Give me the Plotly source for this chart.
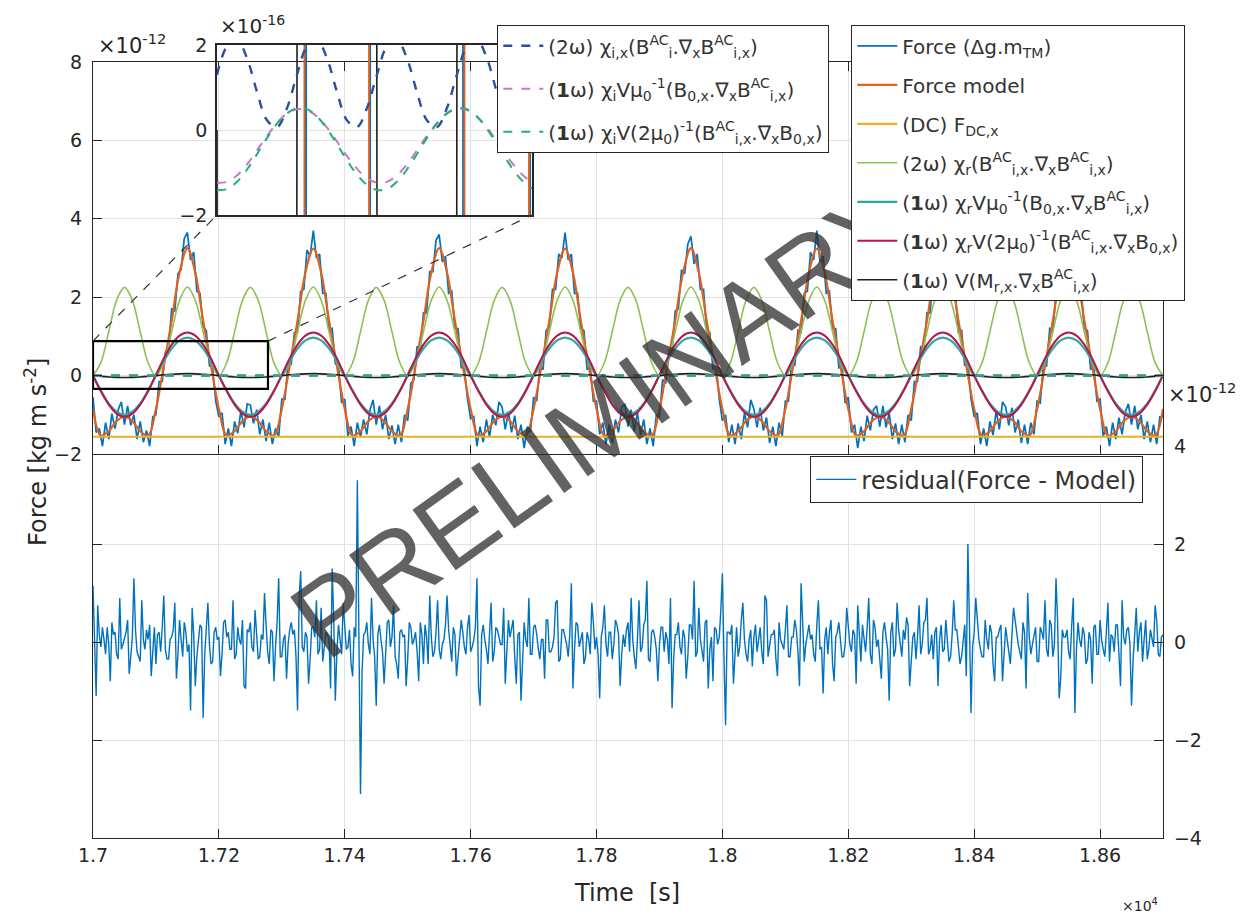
import numpy as np
import plotly.graph_objects as go

# ---------------- data (values in units of 1e-12 N unless noted) ----------------
T0 = 17000.0
DT_FINE = 5.0      # s, sampling of force array
DT_SMOOTH = 12.5   # s, sampling of model component arrays

force = [
    -0.55,-1.45,-1.35,-1.8,-1.2,-1.62,-0.97,-1.35,-0.87,-0.67,-1.25,-0.77,-1.27,-1.0,-1.62,-1.17,-1.7,-1.4,-1.8,-1.05,
    -1.0,-0.15,-0.15,0.6,0.7,1.7,1.65,2.6,2.7,3.5,3.65,2.95,3.15,2.15,2.1,1.25,1.15,0.25,0.2,-0.65,
    -1.05,-0.95,-1.75,-1.35,-1.8,-1.17,-1.47,-0.9,-1.32,-0.72,-0.75,-1.22,-0.87,-1.5,-1.12,-1.67,-1.2,-1.75,-1.35,-1.55,
    -0.6,-0.6,0.35,0.3,1.1,1.1,2.15,2.2,3.2,3.05,3.7,3.0,3.1,2.1,2.1,1.15,1.2,0.3,0.25,-0.7,
    -0.6,-1.55,-1.3,-1.8,-1.2,-1.57,-1.12,-1.5,-0.87,-0.62,-1.25,-0.77,-1.37,-1.0,-1.62,-1.27,-1.75,-1.25,-1.7,-1.0,
    -1.15,-0.2,-0.1,0.75,0.65,1.6,1.6,2.65,2.65,3.45,3.6,2.9,3.05,2.1,2.15,1.2,1.2,0.2,0.2,-0.6,
    -1.1,-1.05,-1.8,-1.3,-1.7,-1.12,-1.57,-1.0,-1.27,-0.67,-0.8,-1.37,-0.92,-1.45,-1.02,-1.62,-1.25,-1.85,-1.3,-1.45,
    -0.55,-0.65,0.25,0.15,1.15,1.25,2.2,2.2,3.1,3.0,3.65,2.95,3.1,2.1,2.1,1.2,1.15,0.15,0.25,-0.65,
    -0.65,-1.5,-1.2,-1.75,-1.25,-1.72,-1.12,-1.45,-0.82,-0.72,-1.3,-0.87,-1.42,-0.95,-1.52,-1.12,-1.75,-1.35,-1.8,-1.0,
    -1.05,-0.1,-0.2,0.65,0.6,1.65,1.7,2.7,2.6,3.35,3.55,2.85,3.1,2.2,2.2,1.15,1.1,0.15,0.3,-0.6,
    -1.15,-1.0,-1.7,-1.25,-1.75,-1.22,-1.62,-0.95,-1.32,-0.62,-0.85,-1.32,-0.82,-1.4,-1.07,-1.72,-1.3,-1.8,-1.2,-1.55,
    -0.65,-0.65,0.35,0.25,1.15,1.1,2.1,2.15,3.15,2.95,3.7,2.9,3.05,2.1,2.15,1.2,1.2,0.2,0.25,-0.7,
    -0.55,-1.45,-1.25,-1.85,-1.3,-1.67,-1.02,-1.4,-0.87,-0.77,-1.3,-0.77,-1.32,-0.95,-1.62,-1.22,-1.75,-1.25,-1.7,-1.0,
    -1.15,-0.15,-0.15,0.75,0.65,1.6,1.6,2.65,2.65,3.45,3.55,2.95,3.15,2.15,2.1,1.1,1.15,0.25,0.35,-0.6,
    -1.05,-0.95,-1.75,-1.35,-1.8,-1.17,-1.52,-0.9,-1.37,-0.67,-0.8,-1.27,-0.82,-1.45,-1.12,-1.72,-1.25,-1.75,-1.2,-1.5,
    -0.65,-0.7,0.3,0.25,1.2,1.15,2.1,2.1,3.1,2.95,3.65,2.85,3.05,2.15,2.2,1.2,1.15,0.15,0.25,-0.65,
    -0.6,-1.55,-1.3,-1.8,-1.2,-1.62,-1.07,-1.5,-0.92,-0.72,-1.25,-0.77,-1.37,-1.0,-1.62,-1.17,-1.7,-1.25,-1.75,-1.05,-1.05,
]

# residual samples at t = T0 + 5k
residual_a = [
    1.15,-1.1,0.15,0.3,-0.25,-0.05,0.4,0.2,-0.35,-0.15,0.1,0.45,-0.3,1.3,-0.2,-0.4,0.05,0.25,0.35,-0.1,
    -0.45,0.2,0.3,-0.15,-0.35,0.1,0.8,-0.25,0.05,0.4,-0.2,-1.4,0.15,-0.3,0.35,-1.55,0.25,-0.05,-0.4,0.3,
    0.1,-0.25,0.45,0.2,-0.15,-0.35,0.3,-0.05,-0.9,0.25,0.4,-0.2,0.15,-0.3,0.05,0.35,-0.45,0.2,-0.1,1.3,
    -0.3,0.15,-0.05,0.4,0.25,-1.4,1.45,-0.2,0.1,-0.35,0.3,0.85,-0.15,-0.4,0.2,0.05,1.5,-1.2,0.35,-0.25,
    0.2,-0.1,-0.45,0.3,3.3,-3.1,0.15,0.4,-0.25,0.05,-1.3,0.35,-0.2,-0.05,0.45,0.1,-0.3,-0.75,0.25,0.15,
    -0.35,0.3,0.05,-0.2,0.4,-0.45,0.1,0.95,-0.3,0.2,-0.15,-0.05,0.35,0.25,-0.4,0.15,-0.25,0.45,-0.1,0.3,
    -0.2,0.05,1.3,-1.3,0.35,-0.15,0.2,-0.4,0.3,0.1,-0.05,-0.85,0.45,0.25,-0.3,0.15,-1.2,0.4,-0.1,-0.25,
    0.3,0.15,-0.35,0.05,0.45,-0.2,-0.1,0.8,-0.4,0.25,0.1,-0.3,1.2,-0.15,0.35,0.05,-0.45,0.2,-0.25,0.4,
    0.1,-1.15,0.3,-0.05,0.2,-0.35,0.45,0.15,-0.25,-0.1,0.4,0.9,-0.3,0.05,-0.2,0.35,1.25,-0.4,0.25,-0.15,
    -0.05,0.3,0.2,-0.45,-1.35,0.15,0.4,-0.25,0.1,-0.3,0.35,1.25,-0.2,0.05,-0.4,0.45,-0.15,-0.8,0.25,0.1,
    1.4,-1.7,0.2,0.35,-0.15,-0.3,0.45,0.05,-0.4,0.25,0.1,-0.2,0.3,-0.45,0.85,-0.1,0.15,-0.35,0.4,-0.05,
    0.25,-0.3,0.1,0.45,-0.2,1.2,-0.4,0.15,0.05,-0.25,0.35,-0.15,-1.05,0.3,0.2,-0.45,0.1,0.4,-0.3,-0.05,
    0.35,-0.2,0.15,0.75,-0.4,0.05,0.3,-0.25,0.45,-0.1,-0.35,0.2,0.1,-1.2,0.4,-0.15,0.25,-0.3,0.05,0.35,
    -0.45,0.2,0.1,-0.25,0.4,0.9,-0.15,-0.35,0.3,0.05,-0.2,0.45,-0.4,0.15,0.25,-0.1,-0.3,0.35,2.0,-1.45,
    0.2,0.4,-0.15,-0.3,0.05,0.35,-0.45,0.1,0.25,-0.8,0.3,-0.2,0.15,0.45,-0.05,-0.35,0.2,1.0,-0.25,0.1,
    -0.4,0.3,0.05,-0.15,0.45,-0.3,1.3,-1.15,0.25,0.1,-0.2,0.35,-1.45,0.4,-0.1,0.15,-0.35,0.05,0.3,-0.25,
    0.45,-0.15,0.2,-0.4,0.1,0.35,-0.25,0.85,-0.05,0.3,-1.3,0.15,-0.2,0.4,0.05,-0.35,0.25,-0.1,0.45,-0.3,
    0.15,
]
# residual samples at t = T0 + 2.5 + 5k
residual_b = [
    -0.2,0.75,-0.1,0.05,0.3,-0.8,0.15,-0.25,0.9,-0.05,0.2,-0.65,0.1,0.25,-0.3,0.85,-0.15,0.05,-0.7,0.3,
    0.15,-0.2,0.95,-0.35,0.05,0.25,-0.75,0.45,-0.3,0.2,-0.05,0.7,-0.9,0.1,0.3,-0.25,0.8,-0.45,0.2,0.05,
    -0.7,0.4,0.1,-0.15,0.85,-0.25,0.05,0.45,-0.95,0.2,-0.1,0.65,-0.35,0.15,1.0,-0.2,0.25,-0.8,0.4,-0.3,
    0.05,-0.75,0.25,0.15,-0.3,0.9,-0.1,0.2,-0.85,0.3,0.1,-0.25,0.7,-0.05,0.15,-0.95,0.45,-0.2,0.05,0.8,
    -0.15,0.25,-0.7,0.1,0.35,-0.6,0.2,-0.05,0.9,-0.3,0.15,0.05,-0.85,0.4,-0.1,0.75,-0.45,0.2,0.1,-0.9,
    0.4,-0.05,0.2,-0.8,0.15,0.35,-0.45,0.1,-0.2,0.85,-0.35,0.05,0.95,-0.15,0.3,-0.7,0.1,0.2,-0.25,0.55,
    -0.1,0.3,-0.9,0.15,0.05,-0.45,0.8,-0.2,0.25,-0.05,0.7,-0.3,0.1,0.45,-0.85,0.2,-0.4,0.05,0.9,-0.25,
    0.35,-0.15,0.05,-0.75,0.45,-0.2,0.1,0.85,-0.35,0.25,-0.05,0.15,-0.95,0.4,-0.1,0.2,-0.3,0.05,0.8,-0.15,
    -0.25,0.1,0.75,-0.3,0.2,-0.05,0.35,-0.9,0.15,0.25,-0.2,0.05,-0.55,0.85,-0.1,0.45,-0.35,0.2,0.1,-0.8,
    0.3,-0.2,0.05,0.9,-0.35,0.15,-0.1,0.25,-0.75,0.35,0.05,-0.3,0.7,-0.15,0.4,-0.95,0.1,0.3,-0.05,0.65,
    -0.35,0.2,0.15,-0.85,0.3,-0.1,0.8,-0.25,0.05,-0.5,0.35,0.1,-0.2,0.95,-0.3,0.15,0.25,-0.7,0.05,-0.15,
    0.75,-0.3,0.1,0.25,-0.9,0.2,-0.05,0.35,0.15,-0.4,0.85,-0.1,0.05,-0.25,0.45,-0.8,0.2,0.1,-0.3,0.7,
    -0.05,0.25,-0.85,0.15,0.35,-0.2,0.9,-0.45,0.3,0.05,-0.75,0.4,-0.15,0.2,-0.3,0.8,-0.1,0.25,0.5,-0.9,
    0.1,-0.35,0.75,-0.05,0.45,-0.25,0.15,0.2,-0.9,0.35,-0.15,0.05,-0.3,0.85,0.25,-0.45,0.1,-0.7,0.35,-0.1,
    0.9,0.05,-0.3,0.45,-0.15,0.2,-0.8,0.1,0.35,-0.25,0.05,-0.45,0.7,0.15,-0.2,0.4,-0.95,0.1,-0.05,0.3,
    -0.4,0.2,0.85,-0.3,0.35,-0.05,0.45,-0.75,0.1,0.25,-0.35,0.9,-0.15,0.05,0.3,-0.45,0.2,-0.85,0.35,-0.25,
    0.05,-0.3,0.8,0.15,-0.2,0.35,-0.9,0.1,0.25,-0.05,-0.35,0.7,0.2,-0.4,0.45,-0.15,0.05,0.75,-0.25,0.1,
]

model = [
    -0.85,-1.53,-1.42,-1.16,-1.05,-1.16,-1.42,-1.53,-0.85,0.25,1.40,2.63,3.25,2.63,1.40,0.25,
    -0.85,-1.53,-1.42,-1.16,-1.05,-1.16,-1.42,-1.53,-0.85,0.25,1.40,2.63,3.24,2.63,1.40,0.25,
    -0.85,-1.53,-1.42,-1.16,-1.05,-1.16,-1.42,-1.53,-0.85,0.25,1.40,2.63,3.25,2.63,1.40,0.25,
    -0.85,-1.53,-1.42,-1.16,-1.05,-1.16,-1.42,-1.53,-0.85,0.25,1.40,2.63,3.24,2.63,1.40,0.25,
    -0.85,-1.53,-1.42,-1.16,-1.05,-1.16,-1.42,-1.53,-0.85,0.25,1.40,2.63,3.25,2.63,1.40,0.25,
    -0.85,-1.53,-1.42,-1.16,-1.05,-1.16,-1.42,-1.53,-0.85,0.25,1.40,2.63,3.24,2.63,1.40,0.25,
    -0.85,-1.53,-1.42,-1.16,-1.05,-1.16,-1.42,-1.53,-0.85,0.25,1.40,2.63,3.25,2.63,1.40,0.25,
    -0.85,-1.53,-1.42,-1.16,-1.05,-1.16,-1.42,-1.53,-0.85,0.25,1.40,2.63,3.24,2.63,1.40,0.25,
    -0.85,-1.53,-1.42,-1.16,-1.05,-1.16,-1.42,-1.53,-0.85,
]

dc_t = [17000, 18700]
dc_force = [-1.56, -1.56]

green_2w = [
    0.0,0.33,1.12,1.92,2.25,1.92,1.12,0.33,0.0,0.33,1.12,1.92,2.26,1.92,1.12,0.33,
    0.0,0.33,1.12,1.92,2.25,1.92,1.12,0.33,0.0,0.33,1.12,1.92,2.26,1.92,1.12,0.33,
    0.0,0.33,1.12,1.92,2.25,1.92,1.12,0.33,0.0,0.33,1.12,1.92,2.26,1.92,1.12,0.33,
    0.0,0.33,1.12,1.92,2.25,1.92,1.12,0.33,0.0,0.33,1.12,1.92,2.26,1.92,1.12,0.33,
    0.0,0.33,1.12,1.92,2.25,1.92,1.12,0.33,0.0,0.33,1.12,1.92,2.26,1.92,1.12,0.33,
    0.0,0.33,1.12,1.92,2.25,1.92,1.12,0.33,0.0,0.33,1.12,1.92,2.26,1.92,1.12,0.33,
    0.0,0.33,1.12,1.92,2.25,1.92,1.12,0.33,0.0,0.33,1.12,1.92,2.26,1.92,1.12,0.33,
    0.0,0.33,1.12,1.92,2.25,1.92,1.12,0.33,0.0,0.33,1.12,1.92,2.26,1.92,1.12,0.33,
    0.0,0.33,1.12,1.92,2.25,1.92,1.12,0.33,0.0,
]

teal_1w = [
    0.0,-0.38,-0.71,-0.92,-1.0,-0.92,-0.71,-0.38,0.0,0.37,0.69,0.90,0.97,0.90,0.69,0.37,
    0.0,-0.38,-0.71,-0.92,-1.0,-0.92,-0.71,-0.38,0.0,0.37,0.69,0.90,0.97,0.90,0.69,0.37,
    0.0,-0.38,-0.71,-0.92,-1.0,-0.92,-0.71,-0.38,0.0,0.37,0.69,0.90,0.97,0.90,0.69,0.37,
    0.0,-0.38,-0.71,-0.92,-1.0,-0.92,-0.71,-0.38,0.0,0.37,0.69,0.90,0.97,0.90,0.69,0.37,
    0.0,-0.38,-0.71,-0.92,-1.0,-0.92,-0.71,-0.38,0.0,0.37,0.69,0.90,0.97,0.90,0.69,0.37,
    0.0,-0.38,-0.71,-0.92,-1.0,-0.92,-0.71,-0.38,0.0,0.37,0.69,0.90,0.97,0.90,0.69,0.37,
    0.0,-0.38,-0.71,-0.92,-1.0,-0.92,-0.71,-0.38,0.0,0.37,0.69,0.90,0.97,0.90,0.69,0.37,
    0.0,-0.38,-0.71,-0.92,-1.0,-0.92,-0.71,-0.38,0.0,0.37,0.69,0.90,0.97,0.90,0.69,0.37,
    0.0,-0.38,-0.71,-0.92,-1.0,-0.92,-0.71,-0.38,0.0,
]

red_1w = [
    0.0,-0.40,-0.74,-0.97,-1.05,-0.97,-0.74,-0.40,0.02,0.44,0.79,1.02,1.10,1.02,0.79,0.44,
    0.0,-0.40,-0.74,-0.97,-1.05,-0.97,-0.74,-0.40,0.02,0.44,0.79,1.02,1.10,1.02,0.79,0.44,
    0.0,-0.40,-0.74,-0.97,-1.05,-0.97,-0.74,-0.40,0.02,0.44,0.79,1.02,1.10,1.02,0.79,0.44,
    0.0,-0.40,-0.74,-0.97,-1.05,-0.97,-0.74,-0.40,0.02,0.44,0.79,1.02,1.10,1.02,0.79,0.44,
    0.0,-0.40,-0.74,-0.97,-1.05,-0.97,-0.74,-0.40,0.02,0.44,0.79,1.02,1.10,1.02,0.79,0.44,
    0.0,-0.40,-0.74,-0.97,-1.05,-0.97,-0.74,-0.40,0.02,0.44,0.79,1.02,1.10,1.02,0.79,0.44,
    0.0,-0.40,-0.74,-0.97,-1.05,-0.97,-0.74,-0.40,0.02,0.44,0.79,1.02,1.10,1.02,0.79,0.44,
    0.0,-0.40,-0.74,-0.97,-1.05,-0.97,-0.74,-0.40,0.02,0.44,0.79,1.02,1.10,1.02,0.79,0.44,
    0.0,-0.40,-0.74,-0.97,-1.05,-0.97,-0.74,-0.40,0.02,
]

black_1w = [
    0.0,-0.02,-0.035,-0.045,-0.05,-0.045,-0.035,-0.02,0.0,0.02,0.035,0.045,0.05,0.045,0.035,0.02,
    0.0,-0.02,-0.035,-0.045,-0.05,-0.045,-0.035,-0.02,0.0,0.02,0.035,0.045,0.05,0.045,0.035,0.02,
    0.0,-0.02,-0.035,-0.045,-0.05,-0.045,-0.035,-0.02,0.0,0.02,0.035,0.045,0.05,0.045,0.035,0.02,
    0.0,-0.02,-0.035,-0.045,-0.05,-0.045,-0.035,-0.02,0.0,0.02,0.035,0.045,0.05,0.045,0.035,0.02,
    0.0,-0.02,-0.035,-0.045,-0.05,-0.045,-0.035,-0.02,0.0,0.02,0.035,0.045,0.05,0.045,0.035,0.02,
    0.0,-0.02,-0.035,-0.045,-0.05,-0.045,-0.035,-0.02,0.0,0.02,0.035,0.045,0.05,0.045,0.035,0.02,
    0.0,-0.02,-0.035,-0.045,-0.05,-0.045,-0.035,-0.02,0.0,0.02,0.035,0.045,0.05,0.045,0.035,0.02,
    0.0,-0.02,-0.035,-0.045,-0.05,-0.045,-0.035,-0.02,0.0,0.02,0.035,0.045,0.05,0.045,0.035,0.02,
    0.0,-0.02,-0.035,-0.045,-0.05,-0.045,-0.035,-0.02,0.0,
]

# dashed (inset) terms, in units of 1e-16 N
dash_2w_chi_i = [
    1.30,1.97,2.13,1.69,0.90,0.23,0.07,0.51,1.30,1.97,2.13,1.69,0.90,0.23,0.07,0.51,
    1.30,1.97,2.13,1.69,0.90,0.23,0.07,0.51,1.30,1.97,2.13,1.69,0.90,0.23,0.07,0.51,
    1.30,1.97,2.13,1.69,0.90,0.23,0.07,0.51,1.30,1.97,2.13,1.69,0.90,0.23,0.07,0.51,
    1.30,1.97,2.13,1.69,0.90,0.23,0.07,0.51,1.30,1.97,2.13,1.69,0.90,0.23,0.07,0.51,
    1.30,1.97,2.13,1.69,0.90,0.23,0.07,0.51,1.30,1.97,2.13,1.69,0.90,0.23,0.07,0.51,
    1.30,1.97,2.13,1.69,0.90,0.23,0.07,0.51,1.30,1.97,2.13,1.69,0.90,0.23,0.07,0.51,
    1.30,1.97,2.13,1.69,0.90,0.23,0.07,0.51,1.30,1.97,2.13,1.69,0.90,0.23,0.07,0.51,
    1.30,1.97,2.13,1.69,0.90,0.23,0.07,0.51,1.30,1.97,2.13,1.69,0.90,0.23,0.07,0.51,
    1.30,1.97,2.13,1.69,0.90,0.23,0.07,0.51,1.30,
]

dash_1w_chi_i_a = [
    -1.24,-1.22,-1.07,-0.81,-0.48,-0.14,0.16,0.39,0.49,0.47,0.32,0.06,-0.27,-0.61,-0.91,-1.14,
    -1.24,-1.22,-1.07,-0.81,-0.48,-0.14,0.16,0.39,0.49,0.47,0.32,0.06,-0.27,-0.61,-0.91,-1.14,
    -1.24,-1.22,-1.07,-0.81,-0.48,-0.14,0.16,0.39,0.49,0.47,0.32,0.06,-0.27,-0.61,-0.91,-1.14,
    -1.24,-1.22,-1.07,-0.81,-0.48,-0.14,0.16,0.39,0.49,0.47,0.32,0.06,-0.27,-0.61,-0.91,-1.14,
    -1.24,-1.22,-1.07,-0.81,-0.48,-0.14,0.16,0.39,0.49,0.47,0.32,0.06,-0.27,-0.61,-0.91,-1.14,
    -1.24,-1.22,-1.07,-0.81,-0.48,-0.14,0.16,0.39,0.49,0.47,0.32,0.06,-0.27,-0.61,-0.91,-1.14,
    -1.24,-1.22,-1.07,-0.81,-0.48,-0.14,0.16,0.39,0.49,0.47,0.32,0.06,-0.27,-0.61,-0.91,-1.14,
    -1.24,-1.22,-1.07,-0.81,-0.48,-0.14,0.16,0.39,0.49,0.47,0.32,0.06,-0.27,-0.61,-0.91,-1.14,
    -1.24,-1.22,-1.07,-0.81,-0.48,-0.14,0.16,0.39,0.49,
]

dash_1w_chi_i_b = [
    -1.41,-1.39,-1.22,-0.93,-0.57,-0.19,0.15,0.39,0.51,0.49,0.32,0.03,-0.33,-0.71,-1.05,-1.29,
    -1.41,-1.39,-1.22,-0.93,-0.57,-0.19,0.15,0.39,0.51,0.49,0.32,0.03,-0.33,-0.71,-1.05,-1.29,
    -1.41,-1.39,-1.22,-0.93,-0.57,-0.19,0.15,0.39,0.51,0.49,0.32,0.03,-0.33,-0.71,-1.05,-1.29,
    -1.41,-1.39,-1.22,-0.93,-0.57,-0.19,0.15,0.39,0.51,0.49,0.32,0.03,-0.33,-0.71,-1.05,-1.29,
    -1.41,-1.39,-1.22,-0.93,-0.57,-0.19,0.15,0.39,0.51,0.49,0.32,0.03,-0.33,-0.71,-1.05,-1.29,
    -1.41,-1.39,-1.22,-0.93,-0.57,-0.19,0.15,0.39,0.51,0.49,0.32,0.03,-0.33,-0.71,-1.05,-1.29,
    -1.41,-1.39,-1.22,-0.93,-0.57,-0.19,0.15,0.39,0.51,0.49,0.32,0.03,-0.33,-0.71,-1.05,-1.29,
    -1.41,-1.39,-1.22,-0.93,-0.57,-0.19,0.15,0.39,0.51,0.49,0.32,0.03,-0.33,-0.71,-1.05,-1.29,
    -1.41,-1.39,-1.22,-0.93,-0.57,-0.19,0.15,0.39,0.51,
]

x_tickvals = [17000, 17200, 17400, 17600, 17800, 18000, 18200, 18400, 18600]
x_ticktext = ["1.7", "1.72", "1.74", "1.76", "1.78", "1.8", "1.82", "1.84", "1.86"]
top_yticks = [-2, 0, 2, 4, 6, 8]
bot_yticks = [-4, -2, 0, 2, 4]
inset_yticks = [-2, 0, 2]

zoom_box_t = [17000, 17278]
zoom_box_f = [-0.34, 0.88]
inset_t_range = [17000, 17394]

main_names = [
    "Force (Δg.m<sub>TM</sub>)",
    "Force model",
    "(DC) F<sub>DC,x</sub>",
    "(2ω) χ<sub>r</sub>(B<sup>AC</sup><sub>i,x</sub>.∇<sub>x</sub>B<sup>AC</sup><sub>i,x</sub>)",
    "(<b>1</b>ω) χ<sub>r</sub>Vμ<sub>0</sub><sup>-1</sup>(B<sub>0,x</sub>.∇<sub>x</sub>B<sup>AC</sup><sub>i,x</sub>)",
    "(<b>1</b>ω) χ<sub>r</sub>V(2μ<sub>0</sub>)<sup>-1</sup>(B<sup>AC</sup><sub>i,x</sub>.∇<sub>x</sub>B<sub>0,x</sub>)",
    "(<b>1</b>ω) V(M<sub>r,x</sub>.∇<sub>x</sub>B<sup>AC</sup><sub>i,x</sub>)",
]
inset_names = [
    "(2ω) χ<sub>i,x</sub>(B<sup>AC</sup><sub>i</sub>.∇<sub>x</sub>B<sup>AC</sup><sub>i,x</sub>)",
    "(<b>1</b>ω) χ<sub>i</sub>Vμ<sub>0</sub><sup>-1</sup>(B<sub>0,x</sub>.∇<sub>x</sub>B<sup>AC</sup><sub>i,x</sub>)",
    "(<b>1</b>ω) χ<sub>i</sub>V(2μ<sub>0</sub>)<sup>-1</sup>(B<sup>AC</sup><sub>i,x</sub>.∇<sub>x</sub>B<sub>0,x</sub>)",
]
residual_name = "residual(Force - Model)"
watermark = "PRELIMINARY"

# ---------------- styling ----------------
FONT = "DejaVu Sans"
AX = "#262626"
GRID = "#E3E3E3"
C_FORCE = "#0072BD"
C_MODEL = "#E0601E"
C_DC = "#EDB120"
C_GREEN = "#8DC153"
C_TEAL = "#35A7A0"
C_RED = "#B8174A"
C_BLACK = "#1E1E1E"
C_D_BLUE = "#2C4E9E"
C_D_PURP = "#C07CC4"
C_D_GREEN = "#22AE78"


def tgrid(arr, dt, start=T0):
    return start + dt * np.arange(len(arr))


t_force = tgrid(force, DT_FINE)
t_s = tgrid(model, DT_SMOOTH)

# merge the two residual sample sets in time order
t_res_all = np.concatenate([tgrid(residual_a, 5.0), tgrid(residual_b, 5.0, T0 + 2.5)])
r_all = np.concatenate([np.array(residual_a), np.array(residual_b)])
order = np.argsort(t_res_all, kind="stable")
t_res_all = t_res_all[order]
r_all = r_all[order]

fig = go.Figure()

# ---- top panel (x2, y2) ----
top_series = [
    (t_force, force, C_FORCE, 1.7, "linear", main_names[0]),
    (t_s, model, C_MODEL, 2.2, "spline", main_names[1]),
    (dc_t, dc_force, C_DC, 2.2, "linear", main_names[2]),
    (tgrid(green_2w, DT_SMOOTH), green_2w, C_GREEN, 1.6, "spline", main_names[3]),
    (tgrid(teal_1w, DT_SMOOTH), teal_1w, C_TEAL, 2.2, "spline", main_names[4]),
    (tgrid(red_1w, DT_SMOOTH), red_1w, C_RED, 2.0, "spline", main_names[5]),
    (tgrid(black_1w, DT_SMOOTH), black_1w, C_BLACK, 1.6, "spline", main_names[6]),
]
for k, (tx, yv, col, w, shp, nm) in enumerate(top_series):
    fig.add_trace(go.Scatter(
        x=tx, y=yv, xaxis="x2", yaxis="y2", mode="lines",
        line=dict(color=col, width=w, shape=shp),
        name=nm, legend="legend", legendgroup="m%d" % k, showlegend=True))

dash_series = [
    (dash_2w_chi_i, C_D_BLUE, 2.4, inset_names[0]),
    (dash_1w_chi_i_a, C_D_PURP, 2.0, inset_names[1]),
    (dash_1w_chi_i_b, C_D_GREEN, 2.0, inset_names[2]),
]
for k, (yv, col, w, nm) in enumerate(dash_series):
    fig.add_trace(go.Scatter(
        x=tgrid(yv, DT_SMOOTH), y=np.array(yv) * 1e-4, xaxis="x2", yaxis="y2",
        mode="lines", line=dict(color=col, width=w, dash="dash", shape="spline"),
        showlegend=False, hoverinfo="skip"))

# ---- inset (x3, y3), units 1e-16 ----
for tx, yv, col, w in [(t_force, force, C_FORCE, 2.5),
                       (t_s, black_1w, C_BLACK, 1.6),
                       (t_s, model, C_MODEL, 2.0)]:
    fig.add_trace(go.Scatter(
        x=tx, y=np.array(yv) * 1e4, xaxis="x3", yaxis="y3", mode="lines",
        line=dict(color=col, width=w), showlegend=False, hoverinfo="skip"))
for k, (yv, col, w, nm) in enumerate(dash_series):
    fig.add_trace(go.Scatter(
        x=tgrid(yv, DT_SMOOTH), y=yv, xaxis="x3", yaxis="y3", mode="lines",
        line=dict(color=col, width=w, dash="dash", shape="spline"),
        name=nm, legend="legend2", legendgroup="d%d" % k, showlegend=True))

# ---- bottom panel (x, y) ----
fig.add_trace(go.Scatter(
    x=t_res_all, y=r_all, xaxis="x", yaxis="y", mode="lines",
    line=dict(color=C_FORCE, width=1.4), name=residual_name, legend="legend3"))

# ---------------- layout ----------------
# page has an 8 px body margin: figure is offset by 8 px
OFF = 8
W, H = 1249 - OFF, 920 - OFF
ML, MR, MT, MB = 93 - OFF, 86, 40 - OFF, 82
PW, PH = W - ML - MR, H - MT - MB


def py(pix):  # page pixel row -> paper y
    return (H - MB - (pix - OFF)) / PH


def px(pix):  # page pixel col -> paper x
    return (pix - OFF - ML) / PW


top_dom = [py(454), py(62)]
bot_dom = [0.0, py(446)]
inset_dx = [px(217), px(532)]
inset_dy = [py(215), py(45)]

tickfont = dict(family=FONT, size=19, color=AX)
axis_common = dict(showline=True, linecolor=AX, linewidth=1.3, ticks="inside",
                   ticklen=9, tickcolor=AX, gridcolor=GRID, gridwidth=1,
                   zeroline=False, tickfont=tickfont)

fig.update_layout(
    width=W, height=H,
    margin=dict(l=ML, r=MR, t=MT, b=MB),
    paper_bgcolor="white", plot_bgcolor="white",
    font=dict(family=FONT, color=AX),
    xaxis=dict(domain=[0, 1], anchor="y", range=[17000, 18700],
               tickvals=x_tickvals, ticktext=x_ticktext, mirror=False,
               showgrid=True, **axis_common),
    yaxis=dict(domain=bot_dom, anchor="x", range=[-4, 4], side="right",
               tickvals=bot_yticks, mirror="allticks", showgrid=True,
               ticklabelstandoff=6, **axis_common),
    xaxis2=dict(domain=[0, 1], anchor="y2", range=[17000, 18700],
                tickvals=x_tickvals, showticklabels=False, mirror="allticks",
                showgrid=True, **axis_common),
    yaxis2=dict(domain=top_dom, anchor="x2", range=[-2, 8],
                tickvals=top_yticks, mirror="allticks", showgrid=True,
                ticklabelstandoff=6, **axis_common),
    xaxis3=dict(domain=inset_dx, anchor="y3", range=inset_t_range,
                showticklabels=False, ticks="", showgrid=False, showline=True,
                mirror=True, linecolor=AX, linewidth=1.6, zeroline=False),
    yaxis3=dict(domain=inset_dy, anchor="x3", range=[-2, 2],
                tickvals=inset_yticks, ticks="", showgrid=True, gridcolor=GRID,
                showline=True, mirror=True, linecolor=AX, linewidth=1.6,
                zeroline=False, tickfont=tickfont, ticklabelstandoff=4),
    legend=dict(x=px(851), y=py(25), xanchor="left", yanchor="top",
                bgcolor="white", bordercolor=AX, borderwidth=1.3,
                font=dict(family=FONT, size=20, color="#333333"),
                tracegroupgap=10, itemwidth=40),
    legend2=dict(x=px(497), y=py(25), xanchor="left", yanchor="top",
                 bgcolor="white", bordercolor=AX, borderwidth=1.3,
                 font=dict(family=FONT, size=20, color="#333333"),
                 tracegroupgap=14, itemwidth=40),
    legend3=dict(x=px(810), y=py(456), xanchor="left", yanchor="top",
                 bgcolor="white", bordercolor=AX, borderwidth=1.3,
                 font=dict(family=FONT, size=24, color="#333333"),
                 itemwidth=40),
)


def paper_to_top(xp, yp):
    xd = 17000 + xp * (18700 - 17000)
    yd = -2 + (yp - top_dom[0]) / (top_dom[1] - top_dom[0]) * 10
    return xd, yd


blx, bly = paper_to_top(inset_dx[0], inset_dy[0])
brx, bry = paper_to_top(inset_dx[1], inset_dy[0])

fig.add_shape(type="rect", xref="x2", yref="y2",
              x0=zoom_box_t[0], x1=zoom_box_t[1], y0=zoom_box_f[0], y1=zoom_box_f[1],
              line=dict(color="black", width=2.2))
fig.add_shape(type="line", xref="x2", yref="y2",
              x0=zoom_box_t[0], y0=zoom_box_f[1], x1=blx, y1=bly,
              line=dict(color="#333333", width=1.2, dash="dash"))
fig.add_shape(type="line", xref="x2", yref="y2",
              x0=zoom_box_t[1], y0=zoom_box_f[1], x1=brx, y1=bry,
              line=dict(color="#333333", width=1.2, dash="dash"))

# watermark: label of an invisible line shape (drawn under the legends)
wm_c = (596, 412)
wm_ang = 35.5
half = 320
dx, dy = half * np.cos(np.radians(wm_ang)), half * np.sin(np.radians(wm_ang))
fig.add_shape(type="line", xref="paper", yref="paper", layer="above",
              x0=px(wm_c[0] - dx), y0=py(wm_c[1] + dy),
              x1=px(wm_c[0] + dx), y1=py(wm_c[1] - dy),
              line=dict(color="rgba(0,0,0,0)", width=1),
              label=dict(text=watermark, textposition="middle", textangle=-wm_ang,
                         xanchor="center", yanchor="middle",
                         font=dict(family="Liberation Sans", size=108,
                                   color="rgba(45,45,45,0.75)")))

ann = []
ann.append(dict(text="×10<sup>-12</sup>", x=px(96), y=py(44), xref="paper", yref="paper",
                xanchor="left", yanchor="middle", showarrow=False,
                font=dict(family=FONT, size=21, color=AX)))
ann.append(dict(text="×10<sup>-16</sup>", x=px(218), y=py(25), xref="paper", yref="paper",
                xanchor="left", yanchor="middle", showarrow=False,
                font=dict(family=FONT, size=20, color=AX)))
ann.append(dict(text="×10<sup>-12</sup>", x=px(1166), y=py(393), xref="paper", yref="paper",
                xanchor="left", yanchor="middle", showarrow=False,
                font=dict(family=FONT, size=21, color=AX)))
ann.append(dict(text="×10<sup>4</sup>", x=px(1160), y=py(905), xref="paper", yref="paper",
                xanchor="right", yanchor="middle", showarrow=False,
                font=dict(family=FONT, size=14, color=AX)))
ann.append(dict(text="Time  [s]", x=px(627), y=py(893), xref="paper", yref="paper",
                xanchor="center", yanchor="middle", showarrow=False,
                font=dict(family=FONT, size=24, color=AX)))
ann.append(dict(text="Force [kg m s<sup>-2</sup>]", x=px(36), y=py(452), xref="paper",
                yref="paper", xanchor="center", yanchor="middle", showarrow=False,
                textangle=-90, font=dict(family=FONT, size=24, color=AX)))
fig.update_layout(annotations=ann)

fig.write_html("out.html")
